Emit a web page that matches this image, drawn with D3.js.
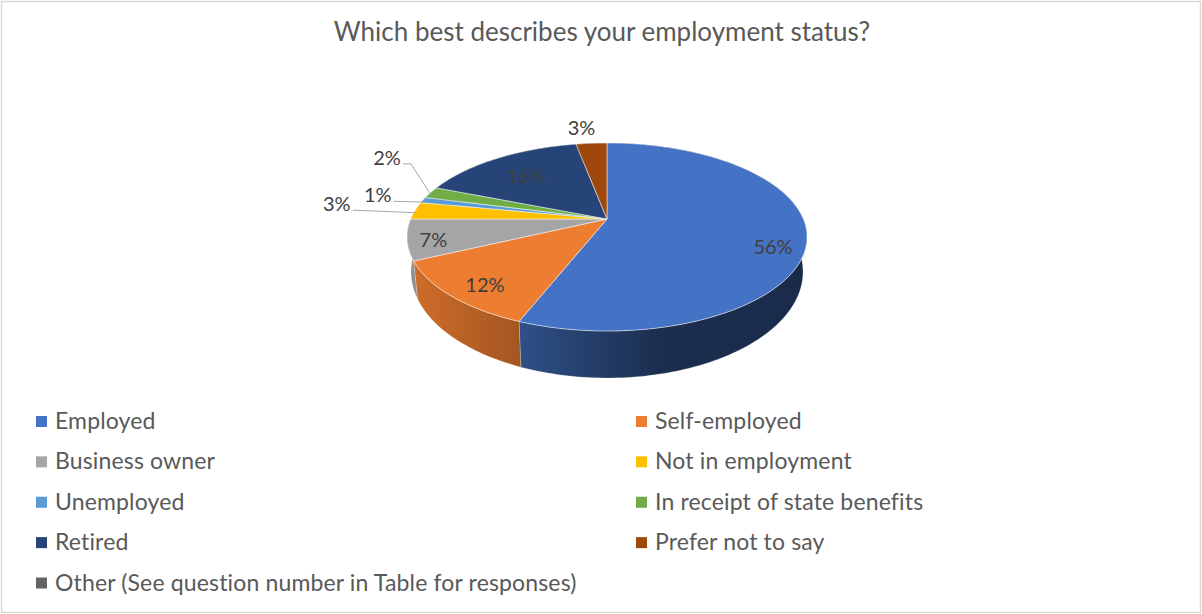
<!DOCTYPE html>
<html>
<head>
<meta charset="utf-8">
<script src="https://cdn.jsdelivr.net/npm/d3@7"></script>
<style>
  html, body { margin: 0; padding: 0; background: #fff; }
  svg { display: block; font-family: Lato, "Open Sans", sans-serif; }
</style>
</head>
<body>
<svg id="chart" width="1202" height="614"></svg>
<script>
const chartTitle = "Which best describes your employment status?";
const categories = ["Employed", "Self-employed", "Business owner", "Not in employment", "Unemployed",
  "In receipt of state benefits", "Retired", "Prefer not to say", "Other (See question number in Table for responses)"];
const shares = [56, 12, 7, 3, 1, 2, 16, 3, 0];
const colours = ["#4472C4", "#ED7D31", "#A5A5A5", "#FFC000", "#5B9BD5", "#70AD47", "#264478", "#9E480E", "#636363"];

// Label placement: radius on the disc plus a small pixel nudge.
const labelRadius = [0.84, 0.8, 0.8, 1.3, 1.15, 1.15, 0.62, 1.16, 0];
const labelNudge = [[-1, 13], [-1, 7], [-15, 5], [-22, -4], [-19, -2], [-19, -31], [-10, -3], [-8, -5], [0, 0]];
// Leader lines: whether a slice has one and how long its horizontal run is.
const hasLeader = [false, false, false, true, true, true, false, false, false];
const leaderRun = [0, 0, 0, 0, 0, 8, 0, 0, 0];

const svg = d3.select("#chart");
const W = 1202, H = 614;

// Perspective disc: tilted circle projected about the pie's apex.
const apex = { x: 607, y: 219 };
const radiusX = 196.3, radiusY = 90.55, tilt = 0.1915;
function project(angle, r = 1) {
  const u = Math.sin(angle) * r, v = -Math.cos(angle) * r;
  const w = 1 - tilt * v;
  return [apex.x + radiusX * u / w, apex.y + radiusY * v / w];
}
// Lower rim of the extruded wall, slightly receding.
function lowerRim(p) {
  return [apex.x + (p[0] - apex.x) * 0.98, p[1] + 38 + (p[1] - 262) * 0.13];
}

const pieLayout = d3.pie().sort(null).value(d => d).startAngle(0).endAngle(2 * Math.PI);
const arcs = pieLayout(shares);
const colour = d3.scaleOrdinal().domain(categories).range(colours);

function rimPoints(a) {
  const n = Math.max(2, Math.ceil((a.endAngle - a.startAngle) / 0.02));
  return d3.range(n + 1).map(i => project(a.startAngle + (a.endAngle - a.startAngle) * i / n));
}
const line = d3.line();

// Chart frame
svg.append("rect").attr("x", 1.5).attr("y", 1.5).attr("width", W - 3).attr("height", H - 3)
  .attr("fill", "#fff").attr("stroke", "#d9d9d9").attr("stroke-width", 1.5);

// Title
svg.append("text").attr("x", 602).attr("y", 41).attr("text-anchor", "middle")
  .attr("font-size", 26).attr("fill", "#595959").text(chartTitle);

// Wall lighting falls off from left to right
const wallShade = d3.scaleLinear().domain([405, 526, 660, 810]).range([0.88, 0.68, 0.4, 0.38]);
const defs = svg.append("defs");
arcs.forEach((a, i) => {
  if (a.value === 0) return;
  const g = defs.append("linearGradient").attr("id", "wall" + i)
    .attr("gradientUnits", "userSpaceOnUse")
    .attr("x1", 405).attr("x2", 810).attr("y1", 0).attr("y2", 0);
  wallShade.domain().forEach(x => {
    g.append("stop").attr("offset", (x - 405) / 405)
      .attr("stop-color", d3.interpolateRgb("#000", colours[i])(wallShade(x)));
  });
});

const visible = arcs.map((a, i) => ({ a, i })).filter(d => d.a.value > 0);

// Side walls
svg.append("g").selectAll("path").data(visible).join("path")
  .attr("d", d => {
    const top = rimPoints(d.a);
    return line(top.concat(top.map(lowerRim).reverse())) + "Z";
  })
  .attr("fill", d => `url(#wall${d.i})`)
  .attr("stroke", "#fff").attr("stroke-opacity", 0.35).attr("stroke-width", 0.6);

// Top surface
svg.append("g").selectAll("path").data(visible).join("path")
  .attr("d", d => line([[apex.x, apex.y]].concat(rimPoints(d.a))) + "Z")
  .attr("fill", d => colours[d.i])
  .attr("stroke", "#fff").attr("stroke-opacity", 0.55).attr("stroke-width", 0.9)
  .attr("stroke-linejoin", "round");

// Value labels
const labels = visible.map(d => {
  const mid = (d.a.startAngle + d.a.endAngle) / 2;
  const p = project(mid, labelRadius[d.i]);
  return {
    i: d.i, value: d.a.value, rim: project(mid, 1),
    x: p[0] + labelNudge[d.i][0], y: p[1] + labelNudge[d.i][1]
  };
});

svg.append("g").selectAll("text").data(labels).join("text")
  .attr("x", d => d.x).attr("y", d => d.y)
  .attr("dy", "0.35em").attr("text-anchor", "middle")
  .attr("font-size", 20).attr("fill", "#404040")
  .text(d => d.value + "%");

// Leader lines for the narrow slices
svg.append("g").selectAll("path").data(labels.filter(d => hasLeader[d.i])).join("path")
  .attr("d", d => {
    const start = [d.x + 16, d.y + 6];
    return line([start, [start[0] + leaderRun[d.i], start[1]], [d.rim[0], d.rim[1] + 2]]);
  })
  .attr("fill", "none").attr("stroke", "#a6a6a6").attr("stroke-width", 1);

// Legend in two columns
const columnX = d3.scalePoint().domain([0, 1]).range([36, 636]);
const rowY = d3.scalePoint().domain(d3.range(5)).range([421, 582.5]);
const legend = svg.append("g").selectAll("g").data(categories).join("g")
  .attr("transform", (d, i) => `translate(${columnX(i % 2)},${rowY(Math.floor(i / 2))})`);
legend.append("rect").attr("x", 0).attr("y", -5).attr("width", 11).attr("height", 11)
  .attr("fill", d => colour(d));
legend.append("text").attr("x", 19).attr("y", 0).attr("dy", "0.35em")
  .attr("font-size", 23).attr("letter-spacing", 0.15).attr("fill", "#595959").text(d => d);
</script>
</body>
</html>
